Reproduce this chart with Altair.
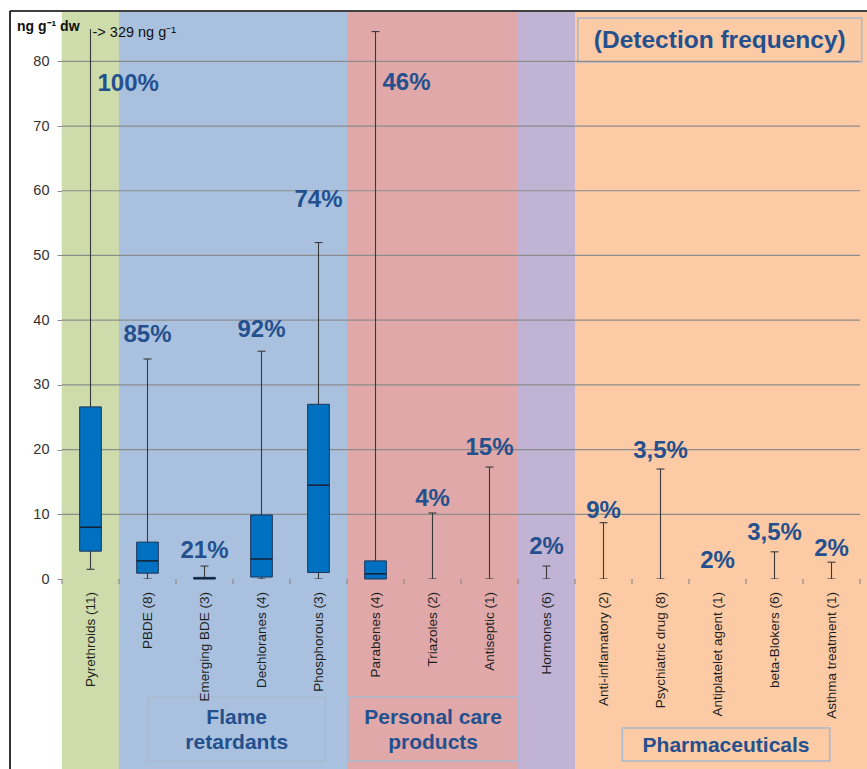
import altair as alt
import pandas as pd

categories = ["Pyrethroids (11)", "PBDE (8)", "Emerging BDE (3)", "Dechloranes (4)",
              "Phosphorous (3)", "Parabenes (4)", "Triazoles (2)", "Antiseptic (1)",
              "Hormones (6)", "Anti-inflamatory (2)", "Psychiatric drug (8)",
              "Antiplatelet agent (1)", "beta-Blokers (6)", "Asthma treatment (1)"]
lower = [1.5, 0, 0, 0, 0, 0, 0, 0, 0, 0, 0, None, 0, 0]
q1 = [4.3, 0.9, 0.0, 0.3, 1.0, 0.0, None, None, None, None, None, None, None, None]
median = [8.0, 2.8, 0.1, 3.1, 14.5, 0.8, None, None, None, None, None, None, None, None]
q3 = [26.6, 5.7, 0.25, 9.9, 27.0, 2.8, None, None, None, None, None, None, None, None]
upper = [329, 34.0, 2.0, 35.2, 52.0, 84.6, 10.2, 17.3, 2.0, 8.7, 17.0, None, 4.2, 2.6]
freq_labels = ["100%", "85%", "21%", "92%", "74%", "46%", "4%", "15%", "2%", "9%",
               "3,5%", "2%", "3,5%", "2%"]
label_y = [76.5, 37.7, 4.3, 38.5, 58.5, 76.7, 12.3, 20.2, 4.9, 10.5, 19.8, 2.8, 7.1, 4.6]
label_left = [True, False, False, False, False, True, False, False, False, False,
              False, False, False, False]

group_names = ["Pyrethroids", "Flame retardants", "Personal care products", "Hormones",
               "Pharmaceuticals"]
group_start = [0, 1, 5, 8, 9]
group_end = [1, 5, 8, 9, 14.13]
group_colors = ["#cddcaa", "#a9c1df", "#e0a8a8", "#c0b3d3", "#fccaa5"]

y_ticks = [10, 20, 30, 40, 50, 60, 70, 80]

FONT = "Liberation Sans"
TXT_BLUE = "#24508e"
BOX_STROKE = "#a9b9cf"
GRAY = "#8c8c8c"

n = len(categories)
df = pd.DataFrame({
    "cat": categories,
    "idx": list(range(n)),
    "lower": lower, "q1": q1, "median": median, "q3": q3, "upper": upper,
    "label": freq_labels, "label_y": label_y, "left": label_left,
})
df["center"] = df["idx"] + 0.5
df["b0"] = df["center"] - 0.19
df["b1"] = df["center"] + 0.19
df["c0"] = df["center"] - 0.07
df["c1"] = df["center"] + 0.07

groups = pd.DataFrame({"g": group_names, "s": group_start, "e": group_end, "c": group_colors})
grid_df = pd.DataFrame({"v": y_ticks, "x0": 0, "x1": 14})
bound_df = pd.DataFrame({"b": list(range(n + 1))})

xs = alt.Scale(domain=[0, 14], nice=False, zero=False)
ys = alt.Scale(domain=[0, 85], nice=False, zero=True)

x_axis = alt.Axis(values=[0, 14], labels=False, ticks=False, grid=False,
                  domainColor=GRAY, domainWidth=1.2, title=None)
y_axis = alt.Axis(values=[0] + y_ticks, grid=False, domainColor=GRAY, domainWidth=1.2,
                  tickColor=GRAY, tickSize=5, labelFontSize=14.5, labelPadding=8,
                  labelColor="#333333", labelFont=FONT, title=None)


def X(f):
    return alt.X(f, scale=xs, axis=x_axis)


def Y(f):
    return alt.Y(f, scale=ys, axis=y_axis)


bands = alt.Chart(groups).mark_rect().encode(
    x=X("s:Q"), x2="e:Q",
    y=alt.value(-17), y2=alt.value(740),
    color=alt.Color("c:N", scale=None),
)

grid = alt.Chart(grid_df).mark_rule(color=GRAY, strokeWidth=1.2).encode(
    x=X("x0:Q"), x2="x1:Q",
    y=Y("v:Q"),
)

bticks = alt.Chart(bound_df).mark_rule(color=GRAY, strokeWidth=1.2).encode(
    x=X("b:Q"),
    y=alt.value(550), y2=alt.value(555),
)

base = alt.Chart(df)
WH = "#3a3a3a"

cat_labels = base.mark_text(font=FONT, fontSize=13.5, color="#1e1e1e", angle=270,
                            align="right", baseline="middle").encode(
    x=X("center:Q"), y=alt.value(563), text="cat:N",
)

whisk = base.transform_filter("datum.upper != null").mark_rule(
    color=WH, strokeWidth=1.1, clip=True).encode(
    x=X("center:Q"), y=Y("lower:Q"), y2="upper:Q",
)
cap_top = base.transform_filter("datum.upper != null").mark_rule(
    color=WH, strokeWidth=1.1, clip=True).encode(
    x=X("c0:Q"), x2="c1:Q", y=Y("upper:Q"),
)
cap_low = base.transform_filter("datum.lower != null").mark_rule(
    color=WH, strokeWidth=1.1, clip=True).encode(
    x=X("c0:Q"), x2="c1:Q", y=Y("lower:Q"),
)
boxes = base.transform_filter("datum.q1 != null").mark_rect(
    color="#0070c0", stroke="#1d3557", strokeWidth=1).encode(
    x=X("b0:Q"), x2="b1:Q", y=Y("q1:Q"), y2="q3:Q",
)
medians = base.transform_filter("datum.median != null").mark_rule(
    color="#14243a", strokeWidth=1.6).encode(
    x=X("b0:Q"), x2="b1:Q", y=Y("median:Q"),
)

lab_c = base.transform_filter("!datum.left").mark_text(
    font=FONT, fontSize=24, fontWeight="bold", color=TXT_BLUE, align="center",
    baseline="middle").encode(
    x=X("center:Q"), y=Y("label_y:Q"), text="label:N",
)
lab_l = base.transform_filter("datum.left").mark_text(
    font=FONT, fontSize=24, fontWeight="bold", color=TXT_BLUE, align="left",
    baseline="middle", dx=7).encode(
    x=X("center:Q"), y=Y("label_y:Q"), text="label:N",
)


def note_box(x0, x1, ytop, ybot, lines, size):
    d = pd.DataFrame({"x0": [x0], "x1": [x1], "xm": [(x0 + x1) / 2], "t": [lines]})
    rect = alt.Chart(d).mark_rect(fill="transparent", stroke=BOX_STROKE, strokeWidth=1.5).encode(
        x=X("x0:Q"), x2="x1:Q",
        y=alt.value(ytop), y2=alt.value(ybot),
    )
    lh = 25
    txt = alt.Chart(d).mark_text(font=FONT, fontSize=size, fontWeight="bold", color=TXT_BLUE,
                                 align="center", baseline="middle", lineHeight=lh).encode(
        x=X("xm:Q"),
        y=alt.value((ytop + ybot) / 2 + 1 - (len(lines) - 1) * lh / 2),
        text="t:N",
    )
    return rect + txt


flame = note_box(1.51, 4.62, 668, 732, ["Flame", "retardants"], 21)
personal = note_box(5.02, 8.0, 668, 732, ["Personal care", "products"], 21)
pharma = note_box(9.83, 13.47, 699, 732, ["Pharmaceuticals"], 21)
detect = note_box(9.05, 14.03, -11, 33, ["(Detection frequency)"], 24.5)

unit_df = pd.DataFrame({"t": ["ng g\u207b\u00b9 dw"]})
unit = alt.Chart(unit_df).mark_text(font=FONT, fontSize=14, fontWeight="bold", color="#111111",
                                    align="left", baseline="alphabetic").encode(
    x=alt.value(-45), y=alt.value(2), text="t:N")

note_df = pd.DataFrame({"x": [0.5], "t": ["-> 329 ng g\u207b\u00b9"]})
note = alt.Chart(note_df).mark_text(font=FONT, fontSize=14.5, color="#111111", align="left",
                                    baseline="middle", dx=2).encode(
    x=X("x:Q"), y=alt.value(4), text="t:N")

frame_df = pd.DataFrame({"k": [0]})
frame_l = alt.Chart(frame_df).mark_rule(color="#000000", strokeWidth=1.6).encode(
    x=alt.value(-52), y=alt.value(-18), y2=alt.value(740))
frame_t = alt.Chart(frame_df).mark_rule(color="#000000", strokeWidth=1.6).encode(
    x=alt.value(-52), x2=alt.value(806), y=alt.value(-18))

chart = alt.layer(
    bands, flame, personal, pharma, detect, grid, bticks, cat_labels,
    whisk, cap_top, cap_low, boxes, medians, lab_c, lab_l, unit, note, frame_l, frame_t,
).properties(
    width=798, height=550,
    autosize=alt.AutoSizeParams(type="none"),
    padding={"left": 62, "top": 29, "right": 7, "bottom": 190},
    background="white",
).configure_view(stroke=None)

chart.save("out.html", embed_options={"renderer": "svg", "actions": False})
